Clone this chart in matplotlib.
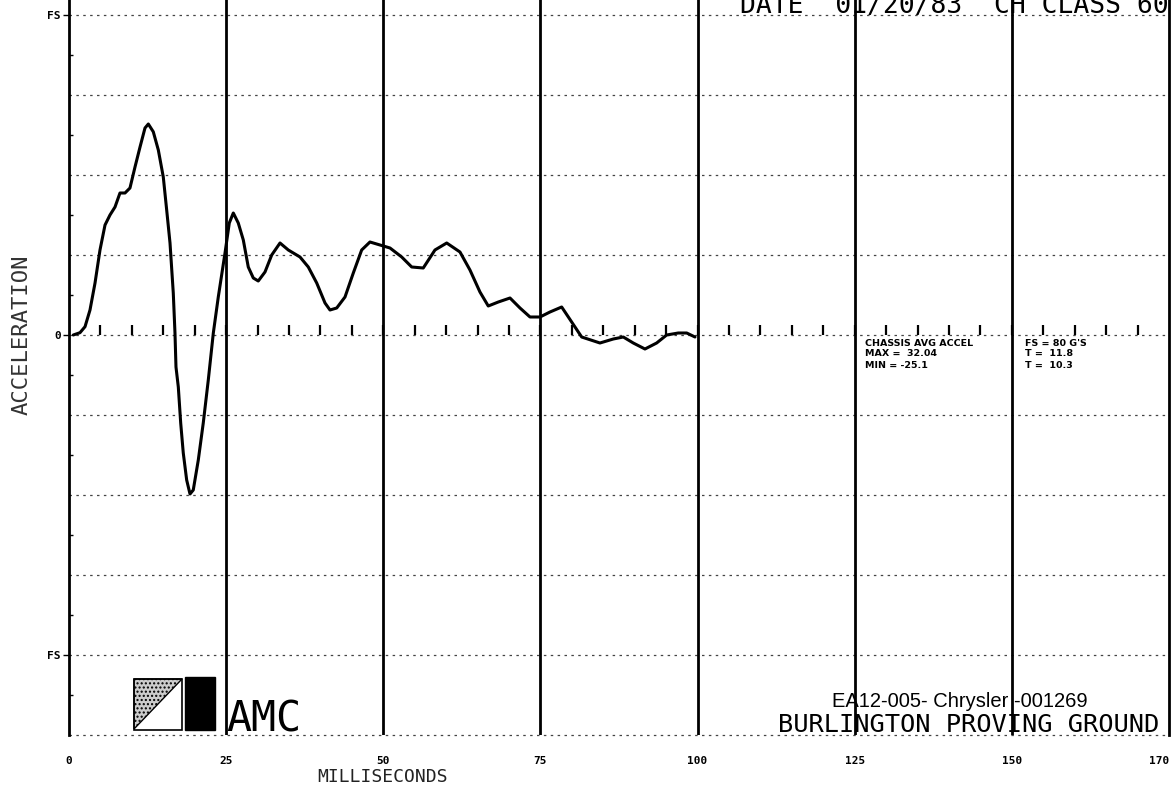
import matplotlib
matplotlib.use('Agg')
import matplotlib.pyplot as plt
from matplotlib.patches import Polygon, Rectangle

W, H = 1173, 797

# ---- data (ms, G) ----
time_ms = [0.68, 1.75, 2.55, 3.34, 4.14, 4.93, 5.73, 6.52, 7.32, 8.11, 8.91,
           9.70, 10.50, 11.30, 12.09, 12.62, 13.41, 14.21, 15.00, 15.54,
           16.07, 16.59, 16.86, 17.02, 17.39, 17.77, 18.18, 18.72, 19.25,
           19.77, 20.57, 21.36, 22.16, 22.96, 23.75, 24.82, 25.50, 26.14,
           26.93, 27.73, 28.52, 29.32, 30.11, 31.18, 32.25, 33.57, 34.89,
           36.75, 38.07, 39.41, 40.73, 41.52, 42.59, 43.91, 45.23, 46.56,
           47.88, 49.48, 51.07, 52.93, 54.52, 56.36, 58.22, 60.09, 62.20,
           63.79, 65.38, 66.70, 68.30, 70.16, 71.75, 73.34, 74.93, 76.52,
           78.38, 79.97, 81.56, 84.47, 86.59, 88.18, 89.77, 91.63, 93.49,
           95.08, 96.93, 98.27, 99.59]
accel_g = [0.0, 0.58, 2.08, 6.25, 13.0, 21.25, 27.5, 30.0, 32.0, 35.5, 35.5,
           36.75, 42.0, 47.0, 51.75, 52.75, 50.8, 46.25, 39.5, 31.25, 23.0,
           10.5, 0.5, -8.0, -13.0, -22.0, -29.5, -36.25, -39.75, -38.75,
           -31.25, -22.0, -11.25, 0.5, 9.5, 20.5, 28.0, 30.5, 28.0, 23.75,
           17.0, 14.25, 13.5, 15.75, 20.0, 23.0, 21.25, 19.5, 17.0, 13.0, 8.0,
           6.25, 6.75, 9.5, 15.5, 21.25, 23.25, 22.5, 21.75, 19.5, 17.0,
           16.75, 21.25, 23.0, 20.75, 16.25, 10.75, 7.25, 8.25, 9.25, 6.75,
           4.5, 4.5, 5.75, 7.0, 3.25, -0.5, -2.0, -1.0, -0.5, -2.0, -3.5,
           -2.0, 0.0, 0.5, 0.5, -0.5]

x_ticks = [0, 25, 50, 75, 100, 125, 150, 175]
x_tick_labels = ['0', '25', '50', '75', '100', '125', '150', '170']
major_x_lines = [25, 50, 75, 100, 125, 150]
y_ticks = [80, 0, -80]
y_tick_labels = ['FS', '0', 'FS']
y_minor = [70, 50, 30, 10, -10, -30, -50, -70, -90]
grid_y = [80, 60, 40, 20, 0, -20, -40, -60, -80, -100]
zero_marks = list(range(5, 175, 5))

legend_left = ['CHASSIS AVG ACCEL', 'MAX =  32.04', 'MIN = -25.1']
legend_right = ["FS = 80 G'S", 'T =  11.8', 'T =  10.3']
title_text = 'DATE  01/20/83  CH CLASS 60'
site_text = 'BURLINGTON PROVING GROUND'
doc_text = 'EA12-005- Chrysler -001269'
x_label = 'MILLISECONDS'
y_label = 'ACCELERATION'

MONO = ['DejaVu Sans Mono']

fig = plt.figure(figsize=(W / 100, H / 100), dpi=100)
fig.patch.set_facecolor('white')


def fx(px):
    return px / W


def fy(py):
    return 1 - py / H


ax = fig.add_axes([fx(69), fy(735), fx(1169) - fx(69), fy(0) - fy(735)])
ax.set_xlim(0, 175)
ax.set_ylim(-100, 83.75)
ax.set_facecolor('white')

for s in ['top', 'bottom']:
    ax.spines[s].set_visible(False)
for s in ['left', 'right']:
    ax.spines[s].set_linewidth(2.0)
    ax.spines[s].set_color('black')

for g in grid_y:
    ax.axhline(g, color='#444444', lw=0.9, ls=(0, (2, 3.5)), zorder=1,
               clip_on=False)
for v in major_x_lines:
    ax.axvline(v, color='black', lw=2.0, zorder=2)

ax.vlines(zero_marks, 0, 2.5, color='black', lw=1.6, zorder=2)

ax.plot(time_ms, accel_g, color='black', lw=2.2, solid_joinstyle='round',
        solid_capstyle='round', zorder=3)

ax.set_xticks(x_ticks)
ax.set_xticklabels(x_tick_labels, fontsize=8, fontweight='bold', family=MONO)
ax.get_xticklabels()[-1].set_horizontalalignment('right')
ax.tick_params(axis='x', length=0, pad=15)
ax.set_yticks(y_ticks)
ax.set_yticklabels(y_tick_labels, fontsize=8, fontweight='bold', family=MONO)
ax.set_yticks(y_minor, minor=True)
ax.tick_params(axis='y', which='major', length=4, width=1, direction='out', pad=2)
ax.tick_params(axis='y', which='minor', length=3, width=1, direction='in')

# legend block
for i, t in enumerate(legend_left):
    fig.text(fx(865), fy(343 + 11 * i), t, fontsize=6.8,
             family=['DejaVu Sans'], fontweight='bold', va='center', ha='left')
for i, t in enumerate(legend_right):
    fig.text(fx(1025), fy(343 + 11 * i), t, fontsize=6.8,
             family=['DejaVu Sans'], fontweight='bold', va='center', ha='left')

# title (top cut off in scan)
fig.text(fx(740), fy(13), title_text, fontsize=19, family=MONO,
         va='baseline', ha='left')

# site name & document id
fig.text(fx(778), fy(732), site_text, fontsize=18.3, family=MONO,
         va='baseline', ha='left')
fig.text(fx(832), fy(707), doc_text, fontsize=14.5,
         family=['Liberation Sans', 'DejaVu Sans'], va='baseline', ha='left')

# axis labels
fig.text(fx(22), fy(335), y_label, rotation=90, fontsize=16, family=MONO,
         va='center', ha='center', color='#333333')
fig.text(fx(382), fy(777), x_label, fontsize=13, family=MONO,
         va='center', ha='center', color='#222222')

# AMC logo
tr = fig.transFigure
tri = Polygon([(fx(134), fy(679)), (fx(182), fy(679)), (fx(134), fy(729))],
              closed=True, facecolor='#cccccc', edgecolor='black', lw=1.0,
              hatch='....', transform=tr)
box = Rectangle((fx(134), fy(730)), fx(182) - fx(134), fy(679) - fy(730),
                fill=False, edgecolor='black', lw=1.2, transform=tr)
blk = Rectangle((fx(185), fy(730)), fx(215) - fx(185), fy(677) - fy(730),
                facecolor='black', edgecolor='black', lw=1.0, transform=tr)
for p in (tri, box, blk):
    fig.add_artist(p)
fig.text(fx(226), fy(731), 'AMC', fontsize=30, family=MONO,
         fontweight='light', va='baseline', ha='left')

fig.savefig('out.png', dpi=100, facecolor='white')
